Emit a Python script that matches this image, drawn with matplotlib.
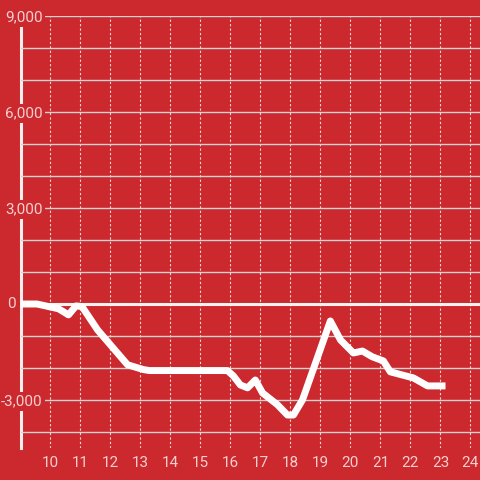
import matplotlib
matplotlib.use('Agg')
from matplotlib import pyplot as plt
from matplotlib.ticker import MultipleLocator, FuncFormatter

hours = [9.0, 9.55, 10.27, 10.6, 10.85, 11.05, 11.57, 12.57, 13.1, 13.3, 15.9, 16.1,
         16.33, 16.57, 16.83, 17.07, 17.57, 17.9, 18.1, 18.4, 19.33, 19.67, 20.1,
         20.4, 20.73, 21.1, 21.33, 22.1, 22.57, 23.17]
values = [0, 0, -150, -340, -60, -80, -810, -1900, -2050, -2080, -2080, -2250,
          -2530, -2620, -2375, -2780, -3150, -3470, -3470, -3000, -530, -1125, -1530,
          -1470, -1650, -1780, -2120, -2310, -2560, -2560]
xticks = list(range(10, 25))

red = '#cc292e'
pale = '#f4cfcf'

plt.rcParams['font.family'] = ['Roboto', 'DejaVu Sans']

fig = plt.figure(figsize=(4.8, 4.8), dpi=100, facecolor=red)
ax = fig.add_axes([20.5 / 480, 32 / 480, 459.5 / 480, 432 / 480], facecolor=red)

ax.set_xlim(9, 24.32)
ax.set_ylim(-4500, 9000)

ax.set_xticks(xticks)
ax.yaxis.set_major_locator(MultipleLocator(3000))
ax.yaxis.set_minor_locator(MultipleLocator(1000))
# the zero label sits apart, left of the axis line
ax.yaxis.set_major_formatter(FuncFormatter(lambda v, p: '' if v == 0 else f"{v:,.0f}"))

ax.grid(axis='x', color='#f2d6d6', linestyle=(0, (2, 2)), linewidth=0.8)
ax.grid(axis='y', which='both', color='#d9d0d0', linestyle='-', linewidth=1.0)

ax.tick_params(axis='x', length=0, pad=6, labelsize=11, labelcolor=pale)
ax.tick_params(axis='y', which='both', length=0, pad=-16, labelsize=11, labelcolor=pale)
for lbl in ax.get_yticklabels():
    lbl.set_bbox(dict(facecolor=red, edgecolor='none', pad=1.5))

ax.annotate('0', xy=(0, 0), xycoords=('axes fraction', 'data'), xytext=(-6.5, 0),
            textcoords='offset points', ha='center', va='center', fontsize=11,
            color=pale, zorder=3)

for s in ['top', 'right', 'bottom']:
    ax.spines[s].set_visible(False)
ax.spines['left'].set_color('#f4eeee')
ax.spines['left'].set_linewidth(2.2)
ax.spines['left'].set_bounds(-4500, 8750)
ax.spines['left'].set_zorder(1)

ax.axhline(0, color='#f7f2f2', linewidth=2.2, zorder=1.8)
ax.plot(hours, values, color='white', linewidth=5.0, solid_capstyle='butt',
        solid_joinstyle='round', zorder=2.5)

plt.savefig('out.png', dpi=100, facecolor=red)
